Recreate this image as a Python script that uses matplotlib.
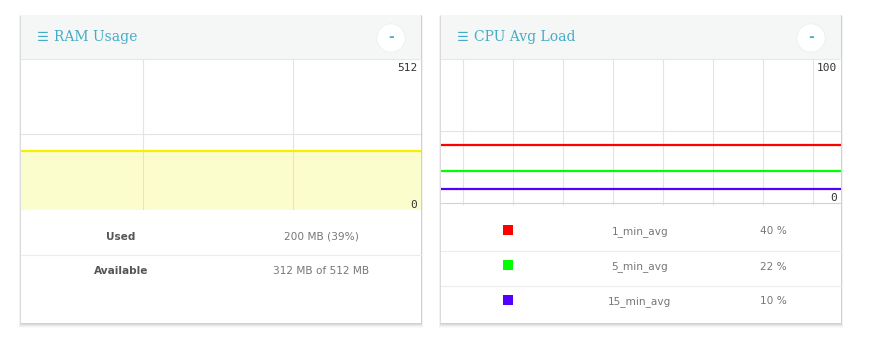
import matplotlib
matplotlib.use("Agg")
import matplotlib.pyplot as plt
from matplotlib.patches import Rectangle, Circle

# ---------------- data ----------------
ram_title = "RAM Usage"
cpu_title = "CPU Avg Load"
ram_total = 512
ram_used = 200
ram_time = [0, 100, 200, 300, 400]
ram_used_series = [200, 200, 200, 200, 200]
ram_rows = ["Used", "Available"]
ram_row_values = ["200 MB (39%)", "312 MB of 512 MB"]

cpu_max = 100
cpu_names = ["1_min_avg", "5_min_avg", "15_min_avg"]
cpu_values = [40, 22, 10]
cpu_time = [0, 100, 200, 300, 400]
cpu_series = [[40, 40, 40, 40, 40],
              [22, 22, 22, 22, 22],
              [10, 10, 10, 10, 10]]
cpu_colors = ["#ff0000", "#00ff00", "#5500ff"]
cpu_value_labels = ["40 %", "22 %", "10 %"]

W, H = 872, 342
fig = plt.figure(figsize=(W / 100, H / 100), dpi=100)
fig.patch.set_facecolor("white")
bg = fig.add_axes([0, 0, 1, 1])
bg.set_xlim(0, W)
bg.set_ylim(H, 0)
bg.axis("off")

TEAL = "#45acc6"
SERIF = ["DejaVu Serif", "DejaVu Sans"]
TFS = 7.6


def panel(x0, title):
    y0, w, h = 14.5, 400, 308
    # soft shadow
    for i, a in enumerate([0.05, 0.05, 0.04, 0.03, 0.02]):
        bg.add_patch(Rectangle((x0 - 0.5 - i * 0.4, y0 + 0.5 + i * 0.2), w + 1 + i * 0.8, h + 0.5 + i * 0.9,
                               facecolor="black", alpha=a, edgecolor="none", zorder=1))
    bg.add_patch(Rectangle((x0, y0), w, h, facecolor="white", edgecolor="none", zorder=2))
    bg.add_patch(Rectangle((x0, y0), w, 44.5, facecolor="#f5f7f7", edgecolor="none", zorder=3))
    bg.plot([x0, x0 + w], [59, 59], color="#e6e9e9", lw=0.8, zorder=4)
    bg.text(x0 + 16, 37.5, "\u2630", color=TEAL, fontsize=9.5, ha="left", va="center",
            family=["DejaVu Sans"], zorder=5)
    bg.text(x0 + 33, 37.5, title, color=TEAL, fontsize=10, ha="left", va="center",
            family=SERIF, zorder=5)
    cx = x0 + w - 30
    bg.add_patch(Circle((cx, 38), 14.5, facecolor="#ececec", edgecolor="none", zorder=4))
    bg.add_patch(Circle((cx, 38), 13.8, facecolor="white", edgecolor="none", zorder=5))
    bg.text(cx, 37, "-", color=TEAL, fontsize=10, fontweight="bold", ha="center", va="center",
            zorder=6, family=["DejaVu Sans"])


panel(21, ram_title)
panel(441, cpu_title)


def axis_labels(ax, top, bottom_px_up):
    ax.annotate(str(top), xy=(1, 1), xycoords="axes fraction", xytext=(-4, -4),
                textcoords="offset pixels", ha="right", va="top",
                family="DejaVu Sans Mono", fontsize=8, color="#333333")
    ax.annotate("0", xy=(1, 0), xycoords="axes fraction", xytext=(-4, bottom_px_up),
                textcoords="offset pixels", ha="right", va="bottom",
                family="DejaVu Sans Mono", fontsize=8, color="#333333")


# ---------------- RAM chart ----------------
ax1 = fig.add_axes([21 / W, (H - 209.5) / H, 400 / W, 150.5 / H])
ax1.set_facecolor("none")
ax1.set_xlim(0, 400)
ax1.set_ylim(0, ram_total)
for s in ax1.spines.values():
    s.set_visible(False)
ax1.set_xticks([])
ax1.set_yticks([])
ax1.axhline(ram_total / 2, color="#e4e4e4", lw=0.8, zorder=0)
for gx in [122, 272]:
    ax1.axvline(gx, color="#e4e4e4", lw=0.8, zorder=0)
ax1.fill_between(ram_time, 0, ram_used_series, color="#f4f800", alpha=0.2, lw=0, zorder=1)
ax1.plot(ram_time, ram_used_series, color="#f2f200", lw=1.6, zorder=2)
axis_labels(ax1, ram_total, 0)

# RAM table
bg.plot([21, 421], [255, 255], color="#ececec", lw=0.8, zorder=4)
for i, (lab, val) in enumerate(zip(ram_rows, ram_row_values)):
    y = 236.5 + i * 35
    bg.text(121, y, lab, ha="center", va="center", fontsize=TFS, fontweight="bold",
            color="#555555", family="DejaVu Sans", zorder=5)
    bg.text(321, y, val, ha="center", va="center", fontsize=TFS,
            color="#777777", family="DejaVu Sans", zorder=5)

# ---------------- CPU chart ----------------
ax2 = fig.add_axes([441 / W, (H - 203) / H, 400 / W, 144 / H])
ax2.set_facecolor("none")
ax2.set_xlim(0, 400)
ax2.set_ylim(0, cpu_max)
for s in ax2.spines.values():
    s.set_visible(False)
ax2.set_xticks([])
ax2.set_yticks([])
ax2.axhline(cpu_max / 2, color="#e4e4e4", lw=0.8, zorder=0)
ax2.vlines([22, 72, 122, 172, 222, 272, 322, 372], -1.6, cpu_max, color="#e4e4e4", lw=0.8,
           zorder=0, clip_on=False)
ax2.axhline(0, color="#f3c4c4", lw=0.8, zorder=0, clip_on=False)
for ser, c in zip(cpu_series, cpu_colors):
    ax2.plot(cpu_time, ser, color=c, lw=1.6, zorder=2)
axis_labels(ax2, cpu_max, 0)

# CPU table
for yy in [250.5, 285.5]:
    bg.plot([441, 841], [yy, yy], color="#ececec", lw=0.8, zorder=4)
for i, (name, c, vl) in enumerate(zip(cpu_names, cpu_colors, cpu_value_labels)):
    y = 230 + i * 35
    bg.add_patch(Rectangle((503, y - 5), 10, 10, facecolor=c, edgecolor="none", zorder=5))
    bg.text(640, y + 1.5, name, ha="center", va="center", fontsize=TFS,
            color="#777777", family="DejaVu Sans", zorder=5)
    bg.text(773.5, y + 1.5, vl, ha="center", va="center", fontsize=TFS,
            color="#777777", family="DejaVu Sans", zorder=5)

fig.savefig("out.png", dpi=100, facecolor="white")
